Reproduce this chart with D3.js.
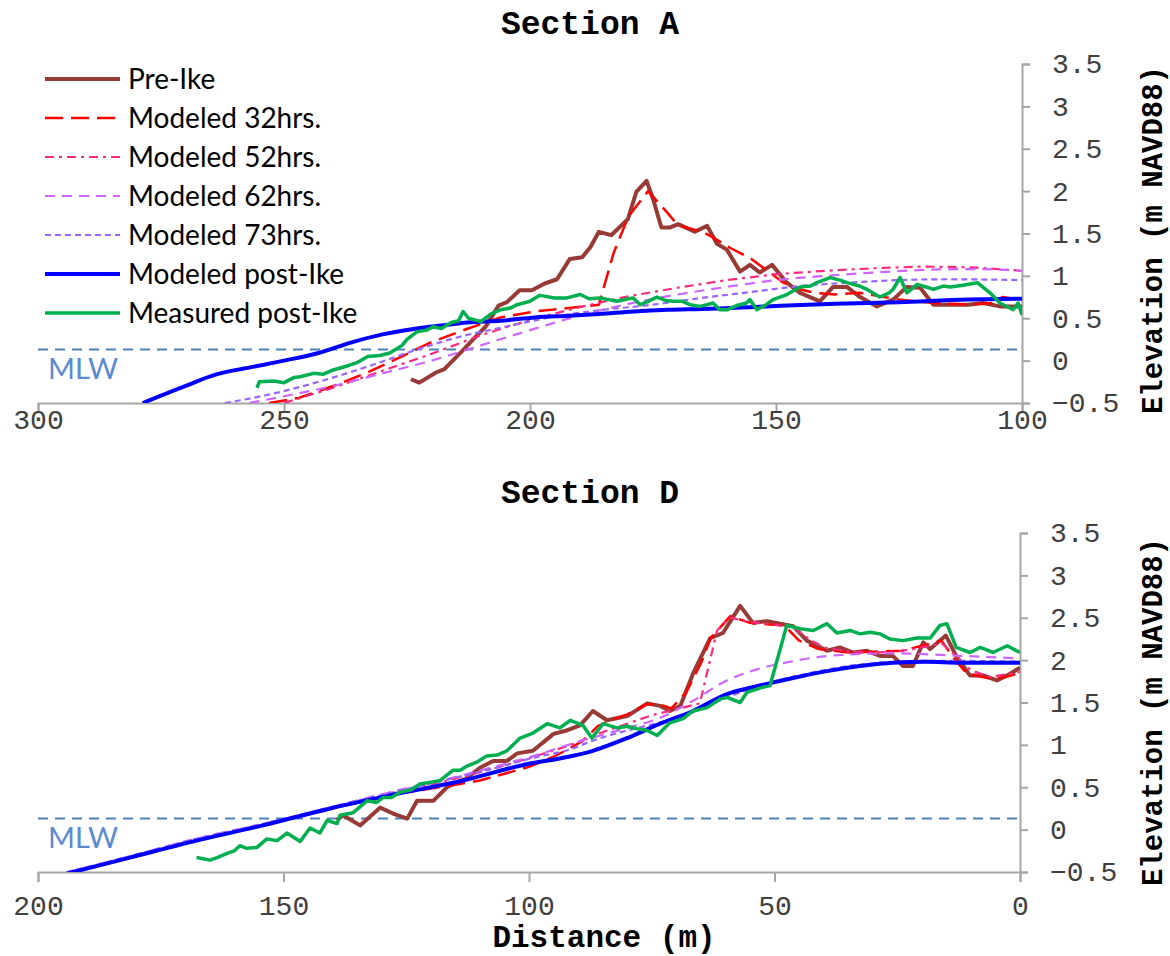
<!DOCTYPE html>
<html><head><meta charset="utf-8">
<script src="https://cdn.jsdelivr.net/npm/d3@7"></script>
<style>
body{margin:0;background:#fff;}
svg{display:block;}
</style></head>
<body>
<svg id="chart" width="1170" height="956"></svg>
<script>
// ---------- DATA ----------
const seriesNames = ["Pre-Ike","Modeled 32hrs.","Modeled 52hrs.","Modeled 62hrs.","Modeled 73hrs.","Modeled post-Ike","Measured post-Ike"];
const panelTitles = ["Section A","Section D"];
const xTicksA = [300,250,200,150,100];
const xTicksD = [200,150,100,50,0];
const yTicks = [-0.5,0,0.5,1,1.5,2,2.5,3,3.5];
const mlwLevel = 0.13;

// Section A  [distance m, elevation m]
const preIkeA = [[224.2,-0.22],[222.5,-0.26],[219.1,-0.14],[217.4,-0.10],[214,0.10],[211.4,0.26],[208.9,0.41],[206.4,0.65],[204.7,0.69],[202.1,0.83],[199.6,0.83],[197,0.91],[194.5,0.96],[191.9,1.20],[189.4,1.22],[187.7,1.34],[186,1.52],[183.5,1.48],[180.1,1.67],[178.4,1.99],[176.3,2.12],[175,1.91],[173.3,1.57],[171.6,1.57],[169.9,1.61],[166.5,1.52],[164,1.59],[162,1.38],[160,1.31],[157.3,1.05],[155.3,1.13],[153.3,1.04],[150.8,1.13],[147.8,0.92],[145.1,0.80],[141.1,0.70],[138.4,0.87],[135.6,0.87],[132.9,0.75],[129.5,0.64],[126.2,0.72],[123.4,0.87],[120.7,0.86],[118,0.66],[111,0.66],[107.9,0.68],[104.5,0.64],[100,0.64]];
const mod32A = [[253,-0.5],[247,-0.44],[240,-0.30],[233,-0.14],[226,0.05],[220,0.22],[213,0.37],[206,0.51],[199,0.58],[192,0.62],[186,0.66],[183,1.27],[180,1.70],[176,2.0],[172,1.74],[170,1.6],[165,1.52],[163,1.46],[159,1.32],[155,1.2],[152,1.07],[148.5,0.92],[145,0.84],[142,0.80],[138,0.78],[133,0.80],[128,0.75],[125,0.72],[118,0.68],[111,0.66],[106,0.68],[104,0.75],[100,0.72]];
const mod52A = [[250,-0.5],[240,-0.32],[230,-0.12],[220,0.08],[210,0.30],[200,0.48],[190,0.63],[180,0.76],[170,0.86],[160,0.95],[150,1.02],[140,1.06],[130,1.09],[120,1.11],[110,1.1],[100,1.06]];
const mod62A = [[257,-0.5],[250,-0.42],[240,-0.3],[230,-0.15],[220,0.0],[210,0.18],[200,0.36],[190,0.53],[180,0.67],[170,0.78],[160,0.87],[150,0.95],[140,1.0],[130,1.04],[120,1.07],[110,1.08],[100,1.06]];
const mod73A = [[262,-0.5],[253,-0.4],[243,-0.25],[233,-0.07],[223,0.13],[215,0.27],[205,0.40],[195,0.52],[185,0.60],[175,0.66],[165,0.74],[155,0.81],[145,0.88],[135,0.92],[125,0.95],[115,0.96],[100,0.95]];
const modPostA = [[278.7,-0.5],[270.5,-0.31],[263.6,-0.16],[256.9,-0.08],[250,0],[243,0.09],[236.6,0.21],[230,0.31],[223,0.38],[217,0.42],[212.8,0.45],[206,0.47],[199,0.51],[192,0.53],[186,0.55],[179,0.58],[172,0.6],[165,0.61],[152,0.64],[138,0.67],[125,0.69],[111,0.72],[100,0.73]];
const measA = [[255.5,-0.32],[255,-0.25],[252,-0.24],[250,-0.26],[248,-0.20],[246.7,-0.19],[244,-0.15],[242,-0.16],[240,-0.11],[237,-0.06],[235,-0.02],[233,0.05],[230.5,0.06],[228.5,0.09],[226,0.18],[225,0.25],[223,0.34],[221,0.36],[219.7,0.40],[218,0.38],[216,0.45],[214.5,0.47],[213.6,0.58],[212.5,0.50],[210,0.46],[208,0.55],[206,0.60],[204,0.62],[202.6,0.66],[200,0.70],[198,0.77],[195,0.74],[192.5,0.74],[189.8,0.78],[188,0.73],[185.8,0.74],[184,0.72],[182.3,0.70],[180,0.73],[179,0.74],[177.6,0.66],[176,0.70],[174.2,0.75],[172.5,0.71],[170.9,0.70],[169,0.70],[167.5,0.66],[165.5,0.64],[164,0.66],[162.8,0.68],[161.4,0.60],[160,0.60],[158,0.65],[156,0.68],[155.3,0.72],[153.9,0.60],[152,0.66],[150.6,0.72],[147.8,0.78],[145.1,0.87],[143,0.88],[141.7,0.92],[139,0.98],[137,0.95],[135.6,0.92],[133,0.88],[131.5,0.84],[128.9,0.75],[127,0.80],[126.2,0.84],[124.8,0.98],[123.4,0.80],[121.3,0.90],[119,0.86],[118,0.84],[116,0.88],[114.6,0.87],[112,0.89],[109.1,0.92],[106.5,0.80],[104.5,0.68],[101.8,0.60],[100.8,0.68],[100,0.54]];

// Section D
const preIkeD = [[139.1,0.11],[137.9,0.17],[134.4,0.05],[130.3,0.26],[127.7,0.19],[124.8,0.13],[122.8,0.34],[119.5,0.34],[116.7,0.50],[112.6,0.61],[110,0.73],[107.3,0.81],[104.5,0.81],[102.4,0.90],[99.2,0.93],[95,1.13],[92.3,1.17],[89.6,1.23],[87,1.40],[84.1,1.29],[80,1.34],[75.9,1.49],[73.3,1.46],[71.3,1.40],[69.2,1.46],[66.6,1.84],[63.1,2.26],[60.5,2.32],[57,2.64],[54.4,2.44],[51.5,2.46],[48.9,2.43],[46.2,2.40],[43.4,2.23],[39.3,2.11],[36.7,2.15],[34,2.09],[31.2,2.11],[28.5,2.05],[25.9,2.05],[23.8,1.93],[21.8,1.93],[19.7,2.21],[18.3,2.13],[15.1,2.29],[13,2.05],[10.2,1.82],[7.5,1.82],[4.7,1.76],[2.6,1.82],[0,1.91]];
const mod32D = [[194,-0.52],[181,-0.33],[168,-0.13],[154,0.05],[140,0.25],[127,0.42],[115,0.53],[110,0.58],[105,0.66],[100,0.74],[95,0.86],[92,0.95],[89,1.05],[86,1.22],[83,1.3],[80,1.36],[76,1.48],[73,1.47],[71,1.43],[68,1.62],[65,1.96],[63,2.26],[59,2.52],[55,2.44],[51,2.42],[48,2.41],[45,2.23],[41,2.13],[35,2.09],[30,2.1],[24,2.11],[20,2.17],[16,2.23],[13.6,2.03],[10.8,1.84],[6,1.78],[3,1.8],[0,1.85]];
const mod52D = [[194,-0.52],[181,-0.32],[168,-0.12],[154,0.06],[140,0.26],[127,0.44],[113,0.63],[106,0.74],[99,0.86],[92,0.99],[85,1.15],[80,1.25],[75,1.35],[70,1.42],[65.2,1.49],[61.7,2.35],[59,2.5],[55,2.45],[50,2.42],[46,2.38],[43,2.25],[40,2.15],[35,2.1],[30,2.09],[25,2.1],[20,2.15],[16,2.2],[13,2.05],[10,1.88],[6,1.80],[0,1.86]];
const mod62D = [[194,-0.5],[181,-0.31],[168,-0.11],[154,0.07],[140,0.27],[127,0.46],[113,0.65],[106,0.76],[99,0.87],[92,1.0],[85,1.12],[80,1.2],[73.3,1.32],[66.6,1.52],[59.7,1.76],[53,1.90],[46,1.99],[39,2.05],[26,2.08],[12,2.05],[0,2.02]];
const mod73D = [[194,-0.5],[181,-0.31],[168,-0.11],[154,0.07],[140,0.27],[127,0.45],[113,0.64],[106,0.74],[99,0.85],[92,0.94],[87,1.05],[80,1.17],[75,1.24],[70,1.32],[65,1.42],[60,1.55],[55,1.66],[50,1.75],[45,1.82],[40,1.88],[35,1.93],[30,1.96],[25,1.98],[20,1.99],[10,1.99],[0,1.98]];
const modPostD = [[194.2,-0.52],[181.3,-0.33],[167.7,-0.13],[154.2,0.05],[140.5,0.25],[127,0.42],[113.4,0.58],[99.8,0.78],[93.7,0.84],[87,0.93],[80,1.08],[73.3,1.25],[66.6,1.40],[59.7,1.60],[53,1.70],[46.2,1.79],[39.3,1.87],[32.6,1.93],[25.9,1.97],[19,1.98],[12.2,1.97],[0,1.97]];
const measD = [[167.7,-0.33],[165,-0.36],[163.5,-0.33],[161.5,-0.28],[160,-0.25],[158.9,-0.19],[157.5,-0.22],[155.4,-0.21],[153.4,-0.11],[151.3,-0.13],[149.3,-0.04],[146.6,-0.14],[144.6,0.02],[142.6,-0.04],[141.1,0.11],[139.1,0.07],[138.5,0.17],[135.8,0.20],[133,0.34],[131,0.32],[129.7,0.38],[128,0.38],[126.3,0.44],[124,0.47],[122.2,0.54],[120,0.56],[118.1,0.58],[115.5,0.70],[114,0.70],[112.6,0.75],[110.5,0.80],[108.6,0.87],[106.5,0.88],[104.5,0.93],[101.8,1.08],[99.2,1.14],[96.3,1.25],[93.7,1.20],[91.6,1.29],[89,1.23],[87.2,1.08],[84.9,1.25],[82.1,1.20],[80,1.22],[78,1.19],[75.9,1.17],[73.9,1.11],[71.3,1.26],[68.6,1.31],[66.6,1.40],[63.7,1.44],[61.1,1.54],[59.7,1.56],[57,1.50],[55.6,1.62],[53,1.67],[50.9,1.70],[47.5,2.41],[44.8,2.37],[42.1,2.35],[39.3,2.43],[37.3,2.32],[34.6,2.35],[32.6,2.31],[30.5,2.33],[28.5,2.31],[26.5,2.25],[23.8,2.23],[21,2.26],[18.3,2.26],[16.3,2.41],[14.9,2.43],[13,2.15],[10.2,2.09],[8.1,2.15],[5.5,2.09],[2.6,2.17],[0,2.09]];

// ---------- STYLE ----------
const styles = [
  {color:"#983A36", width:4, dash:null, smooth:false},
  {color:"#FF0000", width:2.5, dash:"18,8", smooth:false},
  {color:"#FF2A7F", width:2.2, dash:"9,5,3,5", smooth:false},
  {color:"#CC66FF", width:2.2, dash:"10,7", smooth:true},
  {color:"#9966FF", width:2.2, dash:"6,4", smooth:true},
  {color:"#0000FF", width:4, dash:null, smooth:true},
  {color:"#00B050", width:3.5, dash:null, smooth:false}
];

const svg = d3.select("#chart");
svg.append("rect").attr("width",1170).attr("height",956).attr("fill","#fff");

const mono = "'Liberation Mono', 'DejaVu Sans Mono', monospace";
const sans = "Lato, 'Open Sans', 'Noto Sans', sans-serif";

function panel(cfg){
  const x = d3.scaleLinear().domain(cfg.xDomain).range([cfg.left, cfg.right]);
  const y = d3.scaleLinear().domain([-0.5,3.5]).range([cfg.bottom, cfg.top]);
  const g = svg.append("g");
  const clipId = "clip"+cfg.id;
  svg.append("clipPath").attr("id",clipId).append("rect")
    .attr("x",cfg.left).attr("y",cfg.top-5).attr("width",cfg.right-cfg.left).attr("height",cfg.bottom-cfg.top+5);

  // title
  g.append("text").attr("x",590).attr("y",cfg.titleY).attr("text-anchor","middle")
    .attr("dy","0.35em").attr("font-family",mono).attr("font-weight","bold").attr("font-size",33)
    .attr("fill","#000").text(cfg.title);

  // MLW
  g.append("line").attr("x1",cfg.left).attr("x2",cfg.right)
    .attr("y1",y(mlwLevel)).attr("y2",y(mlwLevel))
    .attr("stroke","#4F81BD").attr("stroke-width",2).attr("stroke-dasharray","10,7");
  g.append("text").attr("x",cfg.left+10).attr("y",y(mlwLevel)+29)
    .attr("font-family",sans).attr("font-size",29).attr("fill","#5B8BD0").text("MLW");

  // axes
  const xAxis = d3.axisBottom(x).tickValues(cfg.xTicks).tickSize(10).tickPadding(cfg.xPad).tickFormat(d3.format("d"));
  const gx = g.append("g").attr("transform",`translate(0,${cfg.bottom})`).call(xAxis);
  gx.select(".domain").attr("stroke","#A6A6A6").attr("stroke-width",2);
  gx.selectAll(".tick line").attr("stroke","#A6A6A6").attr("stroke-width",2);
  gx.selectAll("text").attr("font-family",mono).attr("font-size",28).attr("fill","#404040");

  const yAxis = d3.axisRight(y).tickValues(yTicks).tickSize(8).tickPadding(22).tickFormat(d3.format("~g"));
  const gy = g.append("g").attr("transform",`translate(${cfg.right},0)`).call(yAxis);
  gy.select(".domain").attr("stroke","#A6A6A6").attr("stroke-width",2);
  gy.selectAll(".tick line").attr("stroke","#A6A6A6").attr("stroke-width",2);
  gy.selectAll("text").attr("font-family",mono).attr("font-size",28).attr("fill","#404040");

  // y label
  g.append("text").attr("transform",`translate(1162,${cfg.yLabelY}) rotate(-90)`)
    .attr("text-anchor","middle").attr("font-family",mono).attr("font-weight","bold").attr("font-size",29)
    .attr("fill","#000").text("Elevation (m NAVD88)");

  // series
  const plot = g.append("g").attr("clip-path",`url(#${clipId})`);
  cfg.series.forEach((data,i)=>{
    const st = styles[i];
    const line = d3.line().x(d=>x(d[0])).y(d=>y(d[1]))
      .curve(st.smooth ? d3.curveMonotoneX : d3.curveLinear);
    plot.append("path").datum(data).attr("d",line).attr("fill","none")
      .attr("stroke",st.color).attr("stroke-width",st.width)
      .attr("stroke-linejoin","round")
      .attr("stroke-dasharray",st.dash);
  });
  return {x,y};
}

panel({id:"A", title:panelTitles[0], titleY:22, left:38, right:1022, top:64, bottom:403,
  xDomain:[300,100], xTicks:xTicksA, xPad:-4, yLabelY:240,
  series:[preIkeA, mod32A, mod52A, mod62A, mod73A, modPostA, measA]});
panel({id:"D", title:panelTitles[1], titleY:491, left:38, right:1020, top:533, bottom:872,
  xDomain:[200,0], xTicks:xTicksD, xPad:13, yLabelY:712,
  series:[preIkeD, mod32D, mod52D, mod62D, mod73D, modPostD, measD]});

// x axis title
svg.append("text").attr("x",604).attr("y",937).attr("dy","0.32em").attr("text-anchor","middle")
  .attr("font-family",mono).attr("font-weight","bold").attr("font-size",31).text("Distance (m)");

// legend
const lg = svg.append("g");
seriesNames.forEach((name,i)=>{
  const yy = 79 + i*39;
  const st = styles[i];
  lg.append("line").attr("x1",45).attr("x2",120).attr("y1",yy).attr("y2",yy)
    .attr("stroke",st.color).attr("stroke-width",st.width).attr("stroke-dasharray",st.dash);
  lg.append("text").attr("x",128).attr("y",yy).attr("dy","0.35em")
    .attr("font-family",sans).attr("font-size",28).attr("fill","#000").text(name);
});
</script>
</body></html>
